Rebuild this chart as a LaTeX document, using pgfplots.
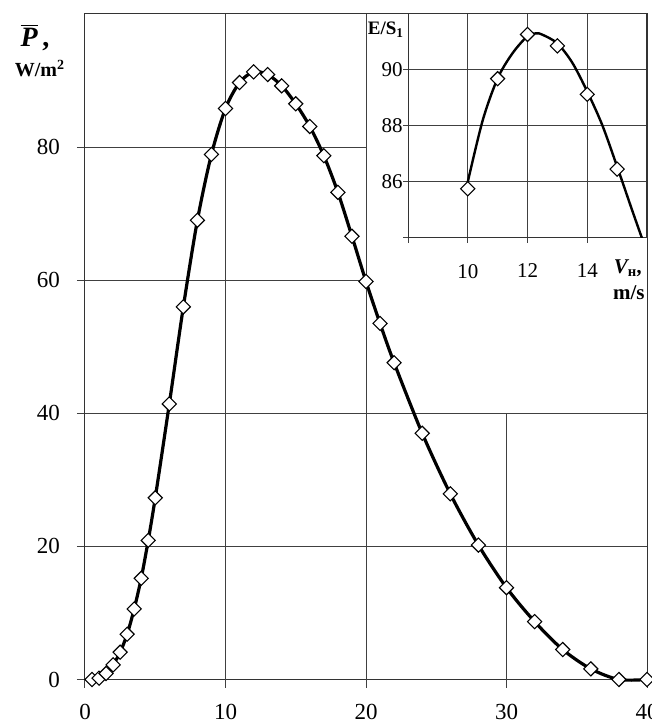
\documentclass[border=0pt]{standalone}
\usepackage{fontspec}
\setmainfont{Liberation Serif}
\usepackage{pgfplots}
\pgfplotsset{compat=1.18}
\begin{document}
\begin{tikzpicture}
\path[use as bounding box] (-42.5pt,-21.25pt) rectangle (283.5pt,339.75pt);
\tikzset{gridl/.style={black!75, line width=0.5pt}}
\begin{axis}[
  at={(0pt,0pt)}, anchor=south west,
  scale only axis, width=281pt, height=332.75pt,
  xmin=0, xmax=40, ymin=0, ymax=100,
  xtick={0,10,20,30,40}, ytick={0,20,40,60,80},
  xtick pos=bottom, ytick pos=left,
  tick align=outside, major tick length=4pt,
  tick style={black!75, line width=0.5pt},
  axis line style={black!80, line width=0.5pt},
  /pgf/number format/assume math mode=true,
  ticklabel style={font=\fontsize{11.5}{13}\selectfont},
  xticklabel style={yshift=-5pt},
  yticklabel style={xshift=-5pt},
  clip=false,
]
\draw[gridl] (axis cs:0,20) -- (axis cs:40,20);
\draw[gridl] (axis cs:0,40) -- (axis cs:40,40);
\draw[gridl] (axis cs:0,60) -- (axis cs:20,60);
\draw[gridl] (axis cs:0,80) -- (axis cs:20,80);
\draw[gridl] (axis cs:10,0) -- (axis cs:10,100);
\draw[gridl] (axis cs:20,0) -- (axis cs:20,100);
\draw[gridl] (axis cs:30,0) -- (axis cs:30,40);
\addplot[black, line width=1.6pt, smooth, mark=square*, mark size=2.5pt,
  mark options={rotate=45, fill=white, draw=black, line width=0.55pt, solid}]
coordinates {
(0.5,0) (1,0.2) (1.5,0.9) (2,2.2) (2.5,4.1) (3,6.8) (3.5,10.6) (4,15.2)
(4.5,20.9) (5,27.3) (6,41.4) (7,56.0) (8,69.0) (9,78.9) (10,85.8) (11,89.7)
(12,91.3) (13,90.9) (14,89.2) (15,86.5) (16,83.1) (17,78.7) (18,73.2)
(19,66.6) (20,59.8) (21,53.5) (22,47.6) (24,37.0) (26,27.9) (28,20.2)
(30,13.8) (32,8.7) (34,4.5) (36,1.6) (38,0) (40,0)
};
\end{axis}
\node at (-25pt,321pt) {\fontsize{14}{16}\selectfont$\overline{\mbox{\bfseries\itshape P}}$\,\textbf{,}};
\node at (-22.5pt,305.5pt) {\fontsize{10}{12}\selectfont\bfseries W/m\textsuperscript{2}};
\begin{axis}[
  at={(161.5pt,220.75pt)}, anchor=south west,
  scale only axis, width=119.5pt, height=112pt,
  xmin=8, xmax=16, ymin=84, ymax=92,
  xtick={8,10,12,14}, xticklabels={,10,12,14},
  ytick={84,86,88,90}, yticklabels={,86,88,90},
  xtick pos=bottom, ytick pos=left,
  tick align=outside, major tick length=2.5pt,
  tick style={black!75, line width=0.5pt},
  axis line style={black!80, line width=0.5pt},
  grid=major, grid style={black!75, line width=0.5pt},
  ticklabel style={font=\fontsize{10.5}{12}\selectfont},
  xticklabel style={yshift=-7pt},
  yticklabel style={inner sep=0pt},
]
\addplot[black, line width=1.2pt, smooth] coordinates {
(10,86.0) (10.5,88.2) (11,89.7) (11.5,90.6) (12,91.21) (12.3,91.31)
(12.5,91.26) (13,90.95) (13.5,90.26) (14,89.23) (14.5,88.04) (15,86.55)
(15.5,85.0) (15.83,84.0)
};
\addplot[only marks, mark=square*, mark size=2.5pt,
  mark options={rotate=45, fill=white, draw=black, line width=0.55pt}]
coordinates {
(10,85.76) (11,89.69) (12,91.27) (13,90.86) (14,89.13) (15,86.46)
};
\end{axis}
\node at (150.5pt,324.75pt) {\fontsize{9.5}{11}\selectfont\bfseries E/S\textsubscript{1}};
\node[anchor=east, inner sep=0pt] at (279pt,205.75pt) {\fontsize{10.5}{12}\selectfont\bfseries\itshape V\textsubscript{\upshape н},};
\node[anchor=east, inner sep=0pt] at (280pt,193.25pt) {\fontsize{10.5}{12}\selectfont\bfseries m/s};
\end{tikzpicture}
\end{document}
